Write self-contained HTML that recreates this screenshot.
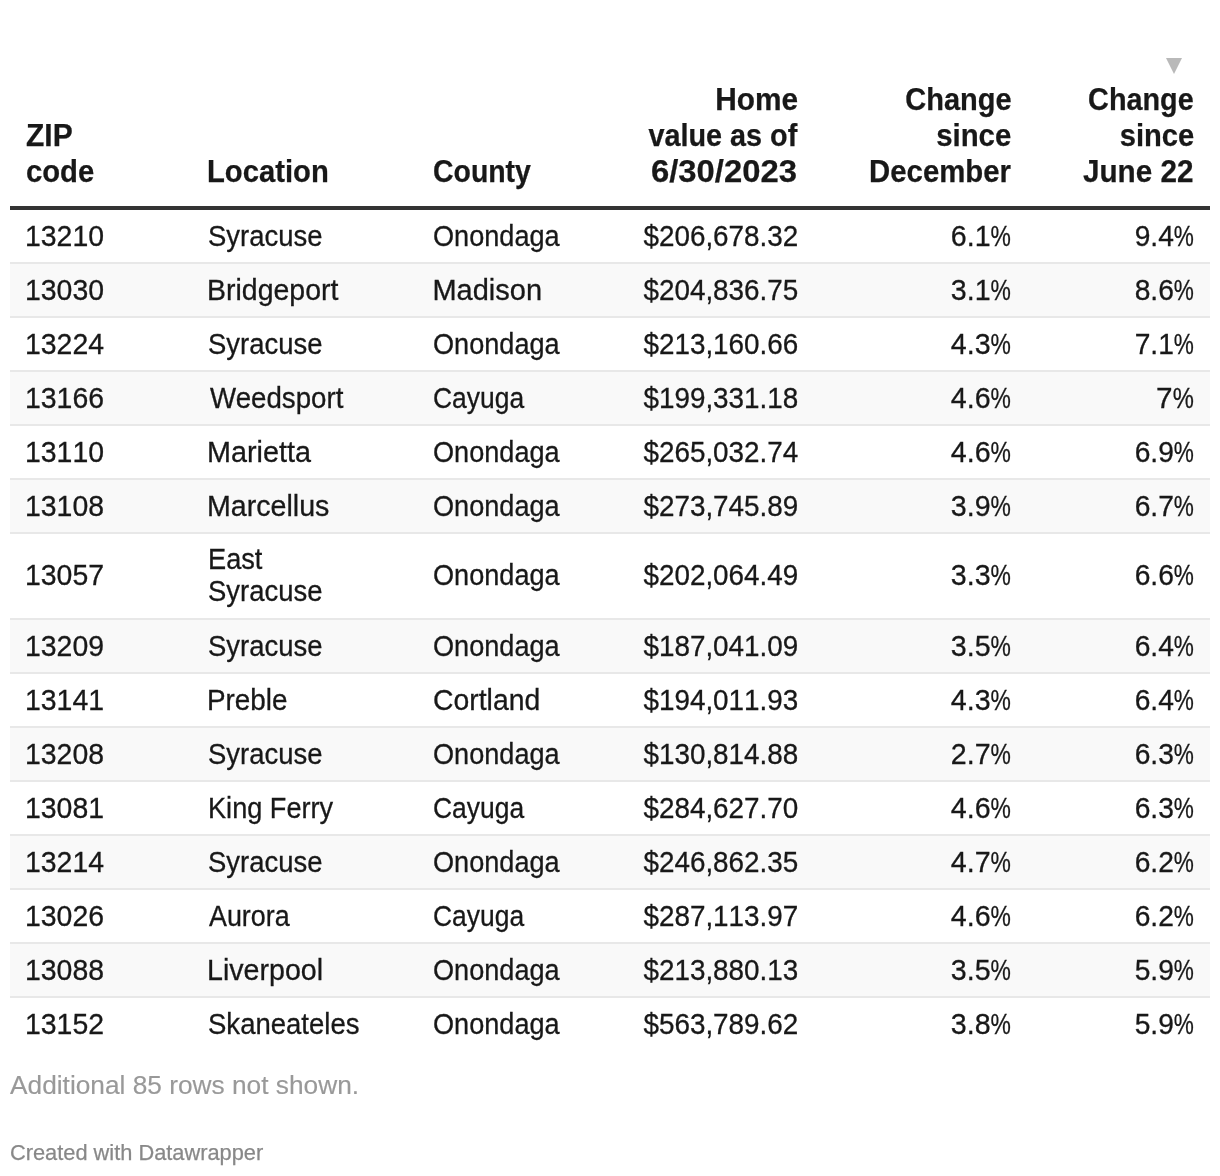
<!DOCTYPE html><html lang="en"><head><meta charset="utf-8"><title>Home values by ZIP code</title><style>
html,body{margin:0;padding:0;background:#fff;}
body{width:1220px;height:1176px;overflow:hidden;font-family:"Liberation Sans",sans-serif;color:#181818;}
.chart{position:relative;width:1220px;height:1176px;}
table{position:absolute;left:10px;top:40px;width:1200px;border-collapse:separate;border-spacing:0;table-layout:fixed;}
col.c1{width:183px}col.c2{width:225px}col.c3{width:192px}col.c4{width:203px}col.c5{width:214px}col.c6{width:183px}
th{padding:0 16px 16px 16px;vertical-align:bottom;font-weight:bold;font-size:31px;line-height:36px;border-bottom:4px solid #333;height:150px;white-space:nowrap;-webkit-text-stroke:0.25px #181818}
td{height:52px;padding:0 16px 0 16px;box-sizing:border-box;vertical-align:middle;font-size:29px;line-height:32px;border-bottom:2px solid #e8e8e8;white-space:nowrap;-webkit-text-stroke:0.3px #181818}
tr.tall td{height:86px;padding-bottom:2px}
tr td{height:54px}
tr.last td{border-bottom:2px solid #fff}
tr.odd td{background:#f9f9f9}
.t{position:relative;display:inline-block;transform-origin:left center}
.r .t{transform-origin:right center}
.pc{display:inline-block;transform:scaleX(.8);transform-origin:right center;margin-left:-5.2px}
.n{font-kerning:none}
.l{text-align:left}.r{text-align:right}
.sort{position:absolute;left:1166px;top:58px;}
.more{position:absolute;left:10px;top:1069px;font-size:26px;line-height:32px;color:#999;white-space:nowrap;-webkit-text-stroke:0.15px #999}
.credit{position:absolute;left:10px;top:1139px;font-size:22px;line-height:28px;color:#888;white-space:nowrap;-webkit-text-stroke:0.25px #888}

</style></head><body>
<div class="chart">
<svg class="sort" width="16" height="16" viewBox="0 0 16 16"><polygon points="0,0 16,0 8,16" fill="#b9b9b9"/></svg>
<table><colgroup><col class="c1"><col class="c2"><col class="c3"><col class="c4"><col class="c5"><col class="c6"></colgroup>
<thead><tr>
<th class="l"><span class="t" id="s0" style="transform:scaleX(0.9667)">ZIP</span><br><span class="t" id="s1" style="transform:scaleX(0.9431)">code</span></th>
<th class="l"><span class="t" id="s2" style="transform:scaleX(0.9428);left:-1.60px">Location</span></th>
<th class="l"><span class="t" id="s3" style="transform:scaleX(0.9170);left:-0.80px">County</span></th>
<th class="r"><span class="t" id="s4" style="transform:scaleX(0.9618);left:0.80px">Home</span><br><span class="t" id="s5" style="transform:scaleX(0.9284)">value as of</span><br><span class="t" id="s6" style="transform:scaleX(1.0588)">6/30/2023</span></th>
<th class="r"><span class="t" id="s7" style="transform:scaleX(0.9357);left:0.80px">Change</span><br><span class="t" id="s8" style="transform:scaleX(0.9473);left:0.20px">since</span><br><span class="t" id="s9" style="transform:scaleX(0.9460)">December</span></th>
<th class="r"><span class="t" id="s10" style="transform:scaleX(0.9288)">Change</span><br><span class="t" id="s11" style="transform:scaleX(0.9400)">since</span><br><span class="t" id="s12" style="transform:scaleX(0.9567);left:-0.60px">June 22</span></th>
</tr></thead><tbody>
<tr class="">
<td class="l n"><span class="t" id="s13" style="transform:scaleX(0.9798);left:-0.80px">13210</span></td>
<td class="l"><span class="t" id="s14" style="transform:scaleX(0.9463);left:-0.80px">Syracuse</span></td>
<td class="l"><span class="t" id="s15" style="transform:scaleX(0.9350);left:-0.80px">Onondaga</span></td>
<td class="r n"><span class="t" id="s16" style="transform:scaleX(0.9600);left:0.80px">$206,678.32</span></td>
<td class="r n"><span class="t" id="s17" style="transform:scaleX(0.9867)">6.1<span class="pc">%</span></span></td>
<td class="r n"><span class="t" id="s18" style="transform:scaleX(0.9731)">9.4<span class="pc">%</span></span></td>
</tr>
<tr class="odd">
<td class="l n"><span class="t" id="s19" style="transform:scaleX(0.9798);left:-0.80px">13030</span></td>
<td class="l"><span class="t" id="s20" style="transform:scaleX(0.9818);left:-1.60px">Bridgeport</span></td>
<td class="l"><span class="t" id="s21" style="left:-1.60px">Madison</span></td>
<td class="r n"><span class="t" id="s22" style="transform:scaleX(0.9600);left:0.80px">$204,836.75</span></td>
<td class="r n"><span class="t" id="s23" style="transform:scaleX(0.9867)">3.1<span class="pc">%</span></span></td>
<td class="r n"><span class="t" id="s24" style="transform:scaleX(0.9731)">8.6<span class="pc">%</span></span></td>
</tr>
<tr class="">
<td class="l n"><span class="t" id="s25" style="transform:scaleX(0.9798);left:-0.80px">13224</span></td>
<td class="l"><span class="t" id="s26" style="transform:scaleX(0.9463);left:-0.80px">Syracuse</span></td>
<td class="l"><span class="t" id="s27" style="transform:scaleX(0.9350);left:-0.80px">Onondaga</span></td>
<td class="r n"><span class="t" id="s28" style="transform:scaleX(0.9600);left:0.80px">$213,160.66</span></td>
<td class="r n"><span class="t" id="s29" style="transform:scaleX(0.9867)">4.3<span class="pc">%</span></span></td>
<td class="r n"><span class="t" id="s30" style="transform:scaleX(0.9731)">7.1<span class="pc">%</span></span></td>
</tr>
<tr class="odd">
<td class="l n"><span class="t" id="s31" style="transform:scaleX(0.9798);left:-0.80px">13166</span></td>
<td class="l"><span class="t" id="s32" style="transform:scaleX(0.9545);left:0.80px">Weedsport</span></td>
<td class="l"><span class="t" id="s33" style="transform:scaleX(0.9113);left:-0.80px">Cayuga</span></td>
<td class="r n"><span class="t" id="s34" style="transform:scaleX(0.9600);left:0.80px">$199,331.18</span></td>
<td class="r n"><span class="t" id="s35" style="transform:scaleX(0.9867)">4.6<span class="pc">%</span></span></td>
<td class="r n"><span class="t" id="s36" style="transform:scaleX(1.0244)">7<span class="pc">%</span></span></td>
</tr>
<tr class="">
<td class="l n"><span class="t" id="s37" style="transform:scaleX(0.9798);left:-0.80px">13110</span></td>
<td class="l"><span class="t" id="s38" style="transform:scaleX(0.9922);left:-1.60px">Marietta</span></td>
<td class="l"><span class="t" id="s39" style="transform:scaleX(0.9350);left:-0.80px">Onondaga</span></td>
<td class="r n"><span class="t" id="s40" style="transform:scaleX(0.9600);left:0.80px">$265,032.74</span></td>
<td class="r n"><span class="t" id="s41" style="transform:scaleX(0.9867)">4.6<span class="pc">%</span></span></td>
<td class="r n"><span class="t" id="s42" style="transform:scaleX(0.9731)">6.9<span class="pc">%</span></span></td>
</tr>
<tr class="odd">
<td class="l n"><span class="t" id="s43" style="transform:scaleX(0.9798);left:-0.80px">13108</span></td>
<td class="l"><span class="t" id="s44" style="transform:scaleX(0.9866);left:-1.60px">Marcellus</span></td>
<td class="l"><span class="t" id="s45" style="transform:scaleX(0.9350);left:-0.80px">Onondaga</span></td>
<td class="r n"><span class="t" id="s46" style="transform:scaleX(0.9600);left:0.80px">$273,745.89</span></td>
<td class="r n"><span class="t" id="s47" style="transform:scaleX(0.9867)">3.9<span class="pc">%</span></span></td>
<td class="r n"><span class="t" id="s48" style="transform:scaleX(0.9731)">6.7<span class="pc">%</span></span></td>
</tr>
<tr class="tall">
<td class="l n"><span class="t" id="s49" style="transform:scaleX(0.9798);left:-0.80px">13057</span></td>
<td class="l"><span class="t" id="s50" style="transform:scaleX(0.9376);left:-1.20px">East</span><br><span class="t" id="s51" style="transform:scaleX(0.9463);left:-0.80px">Syracuse</span></td>
<td class="l"><span class="t" id="s52" style="transform:scaleX(0.9350);left:-0.80px">Onondaga</span></td>
<td class="r n"><span class="t" id="s53" style="transform:scaleX(0.9600);left:0.80px">$202,064.49</span></td>
<td class="r n"><span class="t" id="s54" style="transform:scaleX(0.9867)">3.3<span class="pc">%</span></span></td>
<td class="r n"><span class="t" id="s55" style="transform:scaleX(0.9731)">6.6<span class="pc">%</span></span></td>
</tr>
<tr class="odd">
<td class="l n"><span class="t" id="s56" style="transform:scaleX(0.9798);left:-0.80px">13209</span></td>
<td class="l"><span class="t" id="s57" style="transform:scaleX(0.9463);left:-0.80px">Syracuse</span></td>
<td class="l"><span class="t" id="s58" style="transform:scaleX(0.9350);left:-0.80px">Onondaga</span></td>
<td class="r n"><span class="t" id="s59" style="transform:scaleX(0.9600);left:0.80px">$187,041.09</span></td>
<td class="r n"><span class="t" id="s60" style="transform:scaleX(0.9867)">3.5<span class="pc">%</span></span></td>
<td class="r n"><span class="t" id="s61" style="transform:scaleX(0.9731)">6.4<span class="pc">%</span></span></td>
</tr>
<tr class="">
<td class="l n"><span class="t" id="s62" style="transform:scaleX(0.9798);left:-0.80px">13141</span></td>
<td class="l"><span class="t" id="s63" style="transform:scaleX(0.9608);left:-1.60px">Preble</span></td>
<td class="l"><span class="t" id="s64" style="transform:scaleX(0.9780);left:-0.80px">Cortland</span></td>
<td class="r n"><span class="t" id="s65" style="transform:scaleX(0.9600);left:0.80px">$194,011.93</span></td>
<td class="r n"><span class="t" id="s66" style="transform:scaleX(0.9867)">4.3<span class="pc">%</span></span></td>
<td class="r n"><span class="t" id="s67" style="transform:scaleX(0.9731)">6.4<span class="pc">%</span></span></td>
</tr>
<tr class="odd">
<td class="l n"><span class="t" id="s68" style="transform:scaleX(0.9798);left:-0.80px">13208</span></td>
<td class="l"><span class="t" id="s69" style="transform:scaleX(0.9463);left:-0.80px">Syracuse</span></td>
<td class="l"><span class="t" id="s70" style="transform:scaleX(0.9350);left:-0.80px">Onondaga</span></td>
<td class="r n"><span class="t" id="s71" style="transform:scaleX(0.9600);left:0.80px">$130,814.88</span></td>
<td class="r n"><span class="t" id="s72" style="transform:scaleX(0.9867)">2.7<span class="pc">%</span></span></td>
<td class="r n"><span class="t" id="s73" style="transform:scaleX(0.9731)">6.3<span class="pc">%</span></span></td>
</tr>
<tr class="">
<td class="l n"><span class="t" id="s74" style="transform:scaleX(0.9798);left:-0.80px">13081</span></td>
<td class="l"><span class="t" id="s75" style="transform:scaleX(0.9357);left:-1.20px">King Ferry</span></td>
<td class="l"><span class="t" id="s76" style="transform:scaleX(0.9113);left:-0.80px">Cayuga</span></td>
<td class="r n"><span class="t" id="s77" style="transform:scaleX(0.9600);left:0.80px">$284,627.70</span></td>
<td class="r n"><span class="t" id="s78" style="transform:scaleX(0.9867)">4.6<span class="pc">%</span></span></td>
<td class="r n"><span class="t" id="s79" style="transform:scaleX(0.9731)">6.3<span class="pc">%</span></span></td>
</tr>
<tr class="odd">
<td class="l n"><span class="t" id="s80" style="transform:scaleX(0.9798);left:-0.80px">13214</span></td>
<td class="l"><span class="t" id="s81" style="transform:scaleX(0.9463);left:-0.80px">Syracuse</span></td>
<td class="l"><span class="t" id="s82" style="transform:scaleX(0.9350);left:-0.80px">Onondaga</span></td>
<td class="r n"><span class="t" id="s83" style="transform:scaleX(0.9600);left:0.80px">$246,862.35</span></td>
<td class="r n"><span class="t" id="s84" style="transform:scaleX(0.9867)">4.7<span class="pc">%</span></span></td>
<td class="r n"><span class="t" id="s85" style="transform:scaleX(0.9731)">6.2<span class="pc">%</span></span></td>
</tr>
<tr class="">
<td class="l n"><span class="t" id="s86" style="transform:scaleX(0.9798);left:-0.80px">13026</span></td>
<td class="l"><span class="t" id="s87" style="transform:scaleX(0.9268)">Aurora</span></td>
<td class="l"><span class="t" id="s88" style="transform:scaleX(0.9113);left:-0.80px">Cayuga</span></td>
<td class="r n"><span class="t" id="s89" style="transform:scaleX(0.9600);left:0.80px">$287,113.97</span></td>
<td class="r n"><span class="t" id="s90" style="transform:scaleX(0.9867)">4.6<span class="pc">%</span></span></td>
<td class="r n"><span class="t" id="s91" style="transform:scaleX(0.9731)">6.2<span class="pc">%</span></span></td>
</tr>
<tr class="odd">
<td class="l n"><span class="t" id="s92" style="transform:scaleX(0.9798);left:-0.80px">13088</span></td>
<td class="l"><span class="t" id="s93" style="transform:scaleX(0.9860);left:-1.60px">Liverpool</span></td>
<td class="l"><span class="t" id="s94" style="transform:scaleX(0.9350);left:-0.80px">Onondaga</span></td>
<td class="r n"><span class="t" id="s95" style="transform:scaleX(0.9600);left:0.80px">$213,880.13</span></td>
<td class="r n"><span class="t" id="s96" style="transform:scaleX(0.9867)">3.5<span class="pc">%</span></span></td>
<td class="r n"><span class="t" id="s97" style="transform:scaleX(0.9731)">5.9<span class="pc">%</span></span></td>
</tr>
<tr class="last">
<td class="l n"><span class="t" id="s98" style="transform:scaleX(0.9798);left:-0.80px">13152</span></td>
<td class="l"><span class="t" id="s99" style="transform:scaleX(0.9493);left:-0.80px">Skaneateles</span></td>
<td class="l"><span class="t" id="s100" style="transform:scaleX(0.9350);left:-0.80px">Onondaga</span></td>
<td class="r n"><span class="t" id="s101" style="transform:scaleX(0.9600);left:0.80px">$563,789.62</span></td>
<td class="r n"><span class="t" id="s102" style="transform:scaleX(0.9867)">3.8<span class="pc">%</span></span></td>
<td class="r n"><span class="t" id="s103" style="transform:scaleX(0.9731)">5.9<span class="pc">%</span></span></td>
</tr>
</tbody></table>
<div class="more"><span class="t" id="s104" style="transform:scaleX(1.0105);left:0.30px">Additional 85 rows not shown.</span></div>
<div class="credit"><span class="t" id="s105" style="transform:scaleX(0.9908)">Created with Datawrapper</span></div>
</div></body></html>
